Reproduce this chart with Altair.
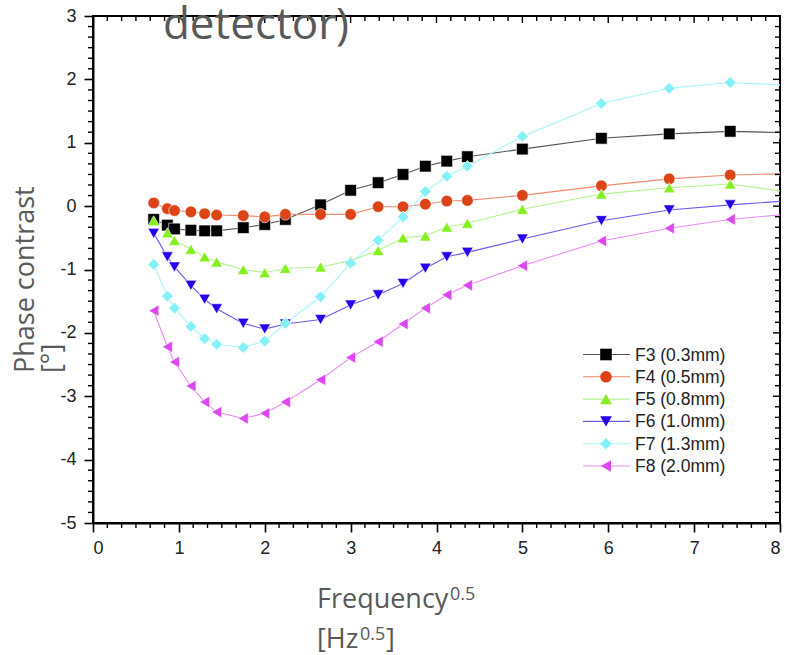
import altair as alt
import pandas as pd

# ---------------- data ----------------
X = [0.707, 0.866, 0.949, 1.14, 1.30, 1.44, 1.75, 2.0, 2.24, 2.65, 3.0,
     3.32, 3.61, 3.87, 4.12, 4.36, 5.0, 5.92, 6.71, 7.42, 8.06]

SERIES = ["F3 (0.3mm)", "F4 (0.5mm)", "F5 (0.8mm)", "F6 (1.0mm)", "F7 (1.3mm)", "F8 (2.0mm)"]

F3 = [-0.21, -0.30, -0.36, -0.38, -0.39, -0.39, -0.34, -0.29, -0.21, 0.02, 0.25,
      0.37, 0.50, 0.63, 0.71, 0.78, 0.90, 1.07, 1.14, 1.18, 1.16]
F4 = [0.05, -0.04, -0.07, -0.09, -0.12, -0.14, -0.15, -0.17, -0.13, -0.13, -0.13,
      -0.01, -0.01, 0.03, 0.08, 0.09, 0.17, 0.32, 0.43, 0.49, 0.51]
F5 = [-0.23, -0.42, -0.54, -0.68, -0.80, -0.88, -1.00, -1.05, -0.98, -0.96, -0.86,
      -0.70, -0.50, -0.47, -0.33, -0.27, -0.05, 0.19, 0.29, 0.35, 0.23]
F6 = [-0.43, -0.80, -0.96, -1.25, -1.47, -1.62, -1.85, -1.94, -1.86, -1.79, -1.56,
      -1.40, -1.22, -0.98, -0.80, -0.73, -0.52, -0.23, -0.06, 0.02, 0.08]
F7 = [-0.92, -1.42, -1.61, -1.90, -2.09, -2.18, -2.23, -2.13, -1.85, -1.43, -0.90,
      -0.54, -0.17, 0.23, 0.47, 0.63, 1.10, 1.62, 1.86, 1.95, 1.91]
F8 = [-1.65, -2.22, -2.46, -2.84, -3.09, -3.25, -3.35, -3.27, -3.09, -2.74, -2.39,
      -2.14, -1.86, -1.61, -1.40, -1.25, -0.94, -0.55, -0.35, -0.21, -0.13]

VALUES = [F3, F4, F5, F6, F7, F8]

X_MAJOR = [0, 1, 2, 3, 4, 5, 6, 7, 8]
Y_MAJOR = [-5, -4, -3, -2, -1, 0, 1, 2, 3]

# ---------------- style ----------------
COLORS = ["#000000", "#dc4418", "#84f020", "#2400ee", "#84f0f8", "#dc48f0"]
LINE_COLORS = ["#555555", "#f08a70", "#b4f490", "#6a5cf2", "#a8f4fa", "#e88cf4"]
SHAPES = ["square", "circle", "triangle-up", "triangle-down", "diamond", "triangle-left"]

W, H = 687, 507
GRAY = "#595959"
TITLE_FONT = "Open Sans"
TICK_FONT = "Liberation Sans"
MSIZE = 135

rows = []
for name, vals in zip(SERIES, VALUES):
    for i, (xv, yv) in enumerate(zip(X, vals)):
        rows.append({"series": name, "x": xv, "y": yv, "k": i})
df = pd.DataFrame(rows)

x_minor = [m / 6 for m in range(0, 49) if m % 6]
y_minor = [-5 + m / 6 for m in range(0, 49) if m % 6]

xscale = alt.Scale(domain=[0, 8], nice=False, zero=False)
yscale = alt.Scale(domain=[-5, 3], nice=False, zero=False)

lines = alt.Chart(df).mark_line(strokeWidth=1.1, clip=True).encode(
    x=alt.X("x:Q", scale=xscale, title=None,
            axis=alt.Axis(values=X_MAJOR, tickSize=9, tickWidth=1.6, tickColor="black",
                          domainColor="black", domainWidth=2, grid=False,
                          labelFont=TICK_FONT, labelFontSize=18, labelColor="#222222",
                          labelPadding=7, labelExpr="'' + datum.value")),
    y=alt.Y("y:Q", scale=yscale, title=None,
            axis=alt.Axis(values=Y_MAJOR, tickSize=9, tickWidth=1.6, tickColor="black",
                          domainColor="black", domainWidth=2, grid=False,
                          labelFont=TICK_FONT, labelFontSize=18, labelColor="#222222",
                          labelPadding=8, labelExpr="'' + datum.value")),
    color=alt.Color("series:N", scale=alt.Scale(domain=SERIES, range=LINE_COLORS), legend=None),
    order="k:Q",
)

points = alt.Chart(df).mark_point(filled=True, size=MSIZE, opacity=1, stroke="white",
                                  strokeWidth=0.6, clip=True).encode(
    x=alt.X("x:Q", scale=xscale, title=None),
    y=alt.Y("y:Q", scale=yscale, title=None),
    fill=alt.Fill("series:N", scale=alt.Scale(domain=SERIES, range=COLORS), legend=None),
    shape=alt.Shape("series:N", scale=alt.Scale(domain=SERIES, range=SHAPES), legend=None),
)

# minor ticks (outward) on bottom / left, and inward ticks on top / right
xm = pd.DataFrame({"v": x_minor})
ym = pd.DataFrame({"v": y_minor})
xM = pd.DataFrame({"v": X_MAJOR})
yM = pd.DataFrame({"v": Y_MAJOR})


def xticks(d, y0, y1):
    return alt.Chart(d).mark_rule(color="black", strokeWidth=1.4).encode(
        x=alt.X("v:Q", scale=xscale, title=None), y=alt.value(y0), y2=alt.value(y1))


def yticks(d, x0, x1):
    return alt.Chart(d).mark_rule(color="black", strokeWidth=1.4).encode(
        y=alt.Y("v:Q", scale=yscale, title=None), x=alt.value(x0), x2=alt.value(x1))


tick_layers = [
    xticks(xm, H, H + 5),
    yticks(ym, -5, 0),
    xticks(xm, 0, 5),
    xticks(xM, 0, 7),
    yticks(ym, W - 5, W),
    yticks(yM, W - 7, W),
]

# ---------------- legend (drawn manually) ----------------
legend_layers = []
for i, name in enumerate(SERIES):
    ry = 338.5 + 22.3 * i
    one = pd.DataFrame({"t": [name]})
    legend_layers.append(alt.Chart(one).mark_rule(color=LINE_COLORS[i], strokeWidth=1.1).encode(
        x=alt.value(490), x2=alt.value(537), y=alt.value(ry)))
    legend_layers.append(alt.Chart(one).mark_point(filled=True, size=MSIZE, opacity=1,
                                                   color=COLORS[i]).encode(
        x=alt.value(513), y=alt.value(ry), shape=alt.value(SHAPES[i])))
    legend_layers.append(alt.Chart(one).mark_text(align="left", baseline="middle",
                                                  font=TICK_FONT, fontSize=17.5,
                                                  color="#222222").encode(
        x=alt.value(542), y=alt.value(ry + 1), text="t:N"))


def label(text, x, y, size, angle=0, align="left", color=GRAY, font=TITLE_FONT):
    d = pd.DataFrame({"t": [text]})
    kw = dict(align=align, baseline="alphabetic", font=font, fontSize=size, color=color)
    if angle:
        kw["angle"] = angle
    return alt.Chart(d).mark_text(**kw).encode(x=alt.value(x), y=alt.value(y), text="t:N")


texts = [
    label("detector)", 163, 23, 44, align="center"),
    label("Phase contrast", -59, 357, 27, angle=270),
    label("[°]", -32, 357, 27, angle=270),
    label("Frequency", 224, 592, 27),
    label("0.5", 357, 584, 18),
    label("[Hz", 224, 632, 27),
    label("0.5", 267, 624, 18),
    label("]", 293, 632, 27),
]

chart = alt.layer(
    lines, points, *tick_layers, *legend_layers, *texts
).properties(
    width=W, height=H,
    autosize=alt.AutoSizeParams(type="none"),
    padding={"left": 93, "top": 16, "right": 6, "bottom": 132},
    background="white",
).configure_view(stroke="black", strokeWidth=2)

chart.save("out.html", embed_options={"renderer": "svg", "actions": False})
